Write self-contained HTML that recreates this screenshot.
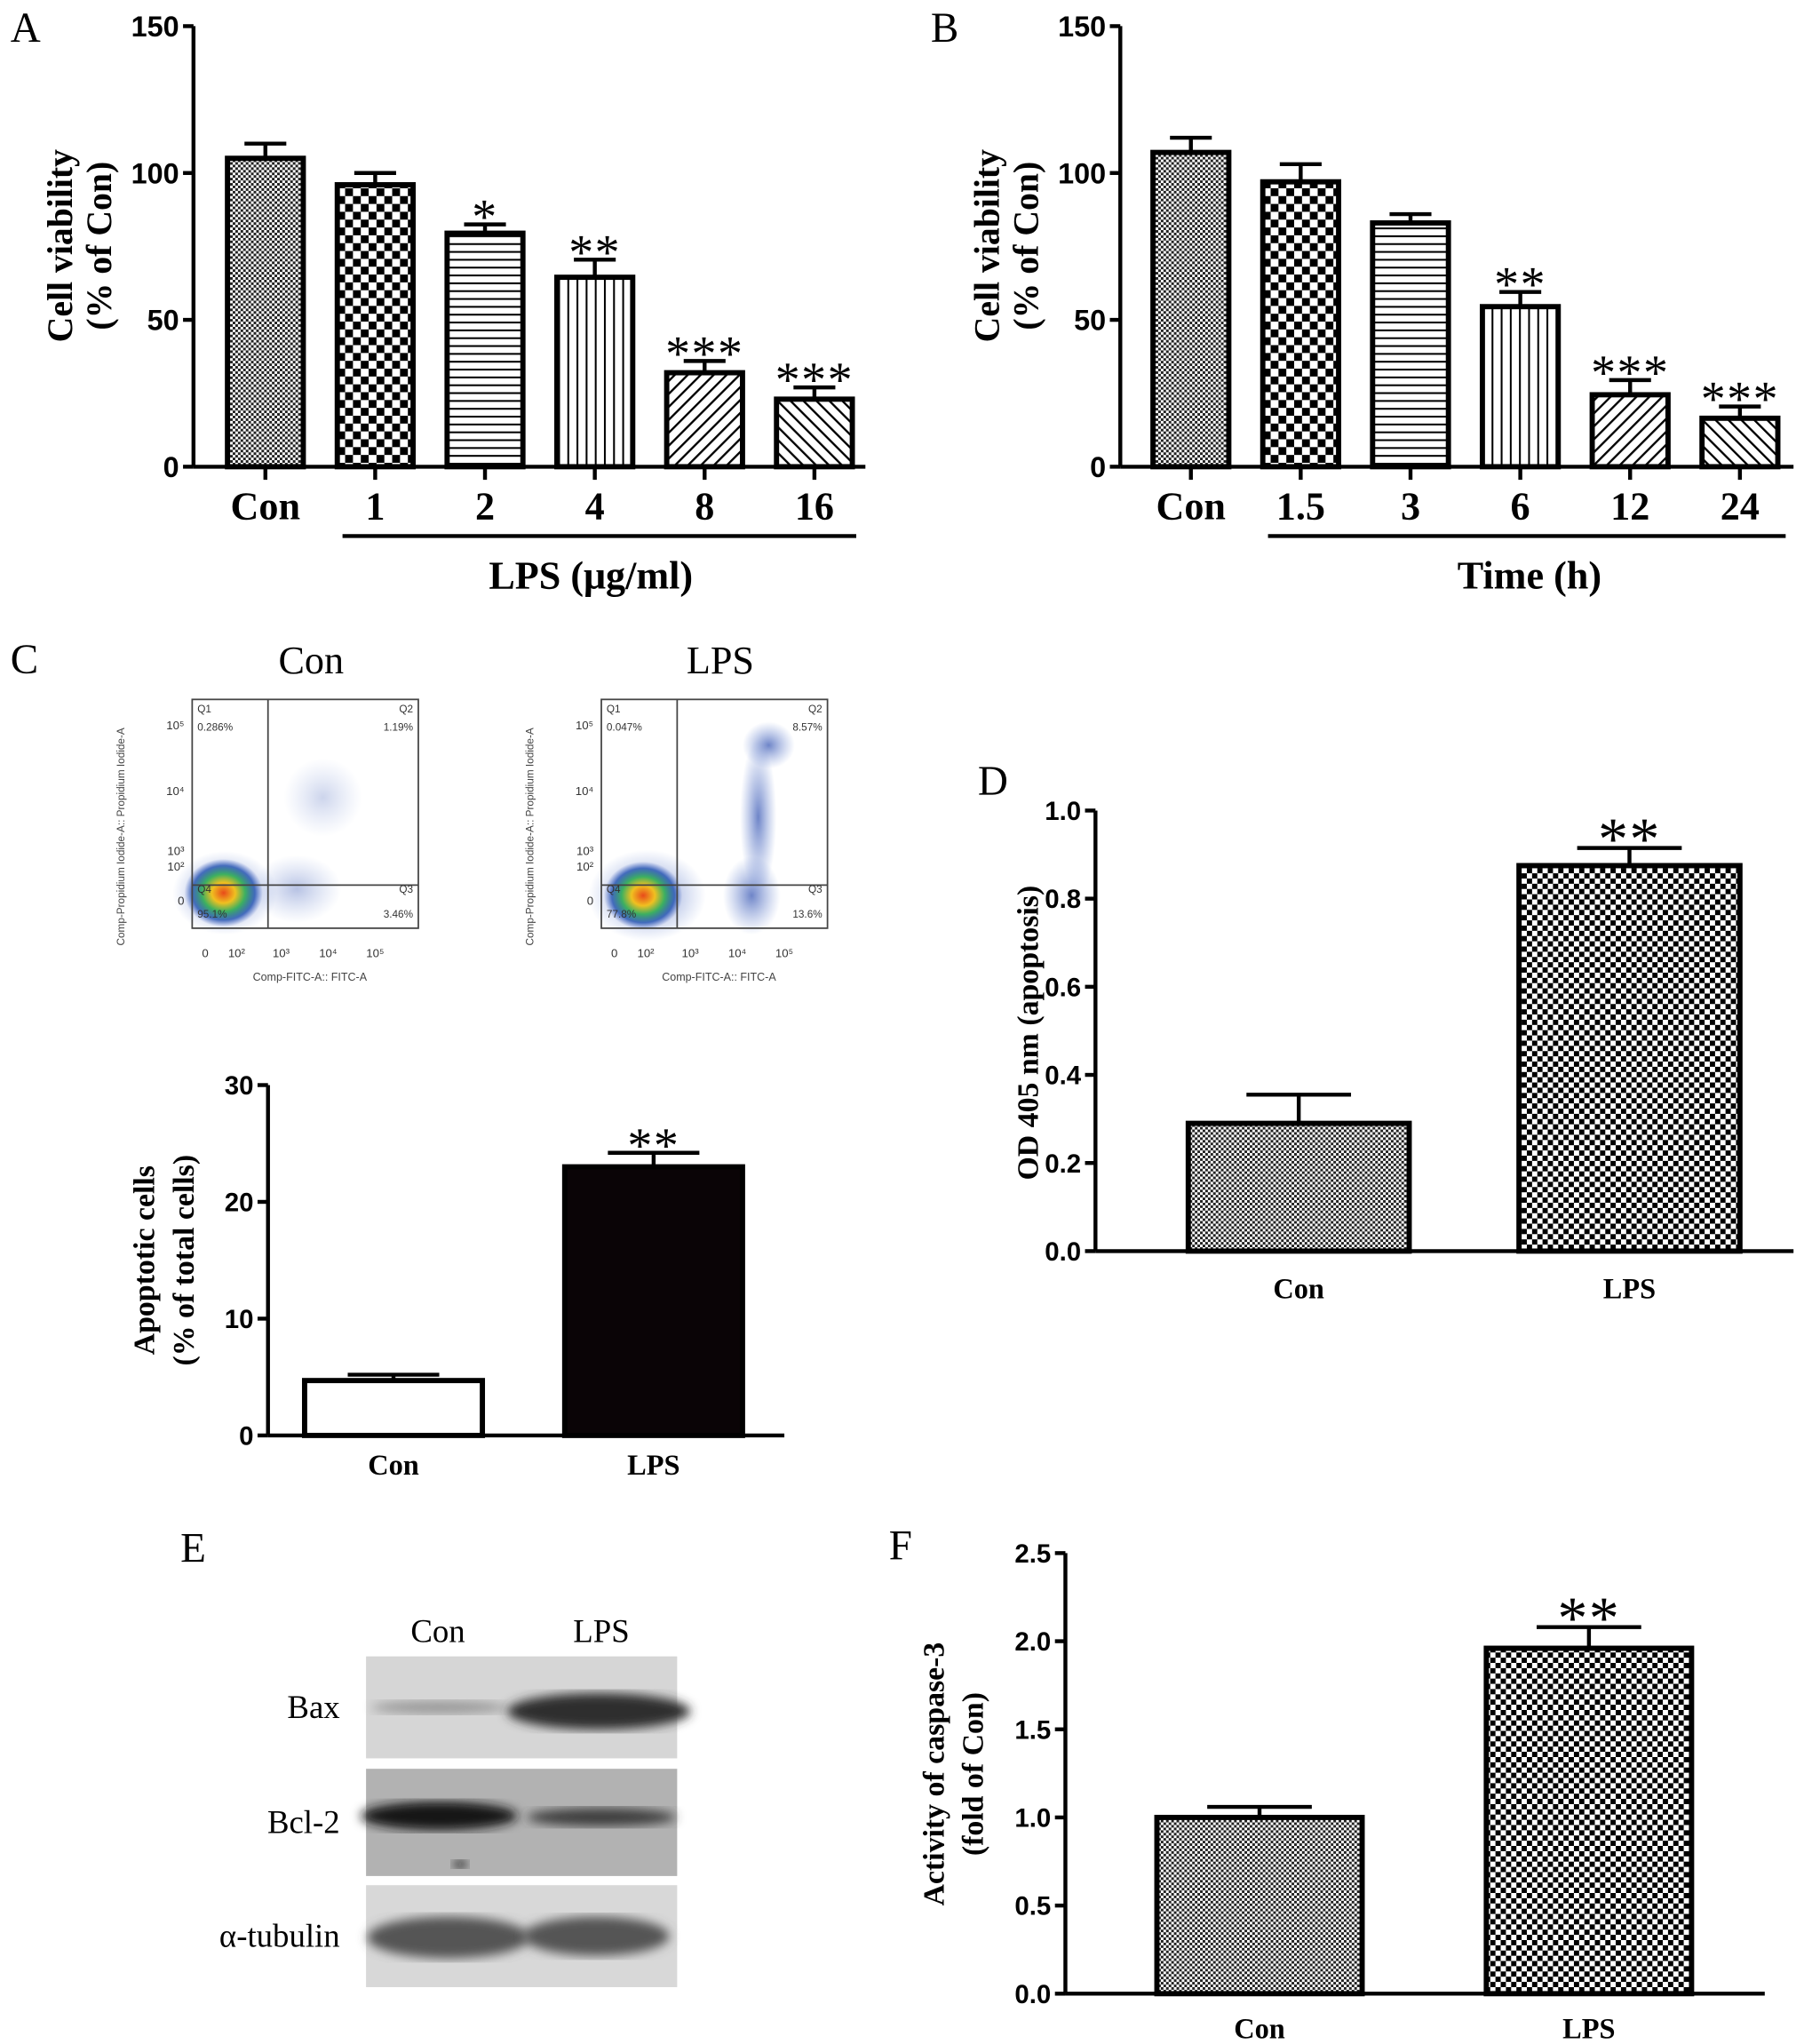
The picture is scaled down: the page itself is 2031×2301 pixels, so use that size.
<!DOCTYPE html>
<html><head><meta charset="utf-8">
<style>
html,body{margin:0;padding:0;background:#fff;}
svg{display:block;}
text{font-family:"Liberation Serif",serif;}
.b{font-weight:bold;}
.sans{font-family:"Liberation Sans",sans-serif;}
</style></head>
<body>
<svg id="fig" width="2031" height="2301" viewBox="0 0 1380 1563.5" xmlns="http://www.w3.org/2000/svg">
<defs>
<pattern id="pFine" width="4" height="4" patternUnits="userSpaceOnUse"><rect width="4" height="4" fill="#fff"/><rect width="2" height="2" fill="#222"/><rect x="2" y="2" width="2" height="2" fill="#222"/></pattern>
<pattern id="pCheck" width="12" height="12" patternUnits="userSpaceOnUse"><rect width="12" height="12" fill="#fff"/><rect width="6" height="6" fill="#000"/><rect x="6" y="6" width="6" height="6" fill="#000"/></pattern>
<pattern id="pMed" width="8" height="8" patternUnits="userSpaceOnUse"><rect width="8" height="8" fill="#fff"/><rect width="4" height="4" fill="#000"/><rect x="4" y="4" width="4" height="4" fill="#000"/></pattern>
<pattern id="pH" width="6" height="6" patternUnits="userSpaceOnUse"><rect width="6" height="6" fill="#fff"/><rect y="0" width="6" height="1.4" fill="#000"/></pattern>
<pattern id="pV" width="7" height="7" patternUnits="userSpaceOnUse"><rect width="7" height="7" fill="#fff"/><rect x="0" width="1.4" height="7" fill="#000"/></pattern>
<pattern id="pD1" width="7" height="7" patternUnits="userSpaceOnUse" patternTransform="rotate(45)"><rect width="7" height="7" fill="#fff"/><rect width="1.6" height="7" fill="#000"/></pattern>
<pattern id="pD2" width="7" height="7" patternUnits="userSpaceOnUse" patternTransform="rotate(-45)"><rect width="7" height="7" fill="#fff"/><rect width="1.6" height="7" fill="#000"/></pattern>
<radialGradient id="heat"><stop offset="0" stop-color="#e84a1a"/><stop offset="0.3" stop-color="#f0c020"/><stop offset="0.55" stop-color="#3cb060"/><stop offset="0.8" stop-color="#2050b0" stop-opacity="0.8"/><stop offset="1" stop-color="#4060c0" stop-opacity="0"/></radialGradient>
<radialGradient id="blue"><stop offset="0" stop-color="#3050b0" stop-opacity="0.7"/><stop offset="1" stop-color="#6080d0" stop-opacity="0"/></radialGradient>
<filter id="blur"><feGaussianBlur stdDeviation="4"/></filter>
</defs>
<g id="root"></g>
</svg>
<script>
// ---- data ----
const aCats = ["Con","1","2","4","8","16"];
const aVals = [105,96,79.5,64.5,32,23];
const aErrs = [5,4,3,6,4,4];
const aStars = ["","","*","**","***","***"];
const bCats = ["Con","1.5","3","6","12","24"];
const bVals = [107,97,83,54.5,24.5,16.5];
const bErrs = [5,6,3,5,5,4];
const bStars = ["","","","**","***","***"];
const abTicks = [0,50,100,150];
const cCats = ["Con","LPS"];
const cVals = [4.7,23];
const cErrs = [0.5,1.2];
const cTicks = [0,10,20,30];
const dCats = ["Con","LPS"];
const dVals = [0.29,0.875];
const dErrs = [0.065,0.04];
const dTicks = ["0.0","0.2","0.4","0.6","0.8","1.0"];
const fCats = ["Con","LPS"];
const fVals = [1.0,1.96];
const fErrs = [0.06,0.12];
const fTicks = ["0.0","0.5","1.0","1.5","2.0","2.5"];

const NS="http://www.w3.org/2000/svg";
const root=document.getElementById('root');
function mk(tag,attrs,parent,txt){const e=document.createElementNS(NS,tag);for(const k in attrs)e.setAttribute(k,attrs[k]);if(txt!==undefined)e.textContent=txt;(parent||root).appendChild(e);return e;}
function ln(x1,y1,x2,y2,w,p){return mk('line',{x1,y1,x2,y2,stroke:'#000','stroke-width':w||3},p);}

function barChart(cfg){
  const g=mk('g',{});
  
  
  const y=v=>cfg.y0-(v-cfg.min)/(cfg.max-cfg.min)*(cfg.y0-cfg.yTop);
  const ya=ln(cfg.ax,cfg.yTop,cfg.ax,cfg.y0,cfg.aw||3,g);
  
  const xa=ln(cfg.ax,cfg.y0,cfg.xEnd,cfg.y0,cfg.aw||3,g);
  
  cfg.ticks.forEach(t=>{
    const v=parseFloat(t);const yy=y(v);
    ln(cfg.ax-8,yy,cfg.ax,yy,cfg.aw||3,g);
    const tl=mk('text',{x:cfg.ax-11,y:yy+cfg.tfs*0.36,'text-anchor':'end','font-size':cfg.tfs,class:'b sans'},g,String(t));
    
  });
  cfg.vals.forEach((v,i)=>{
    const x0=cfg.x0+i*cfg.step, x1=x0+cfg.bw, cx=(x0+x1)/2;
    const eTop=y(v+cfg.errs[i]);
    ln(cx,eTop,cx,y(v),3,g);
    ln(cx-cfg.cap,eTop,cx+cfg.cap,eTop,3,g);
    const r=mk('rect',{x:x0,y:y(v),width:cfg.bw,height:cfg.y0-y(v),fill:cfg.fills[i],stroke:'#000','stroke-width':4},g);
    
    
    if(cfg.tickDown) ln(cx,cfg.y0,cx,cfg.y0+10,3,g);
    const lb=mk('text',{x:cx,y:cfg.y0+cfg.lOff,'text-anchor':'middle','font-size':cfg.lfs,class:'b'},g,cfg.cats[i]);
    
    
    if(cfg.stars&&cfg.stars[i]){
      const s=mk('text',{x:cx,y:eTop+cfg.sfs*0.18,'text-anchor':'middle','font-size':cfg.sfs,'letter-spacing':cfg.sls||0},g,cfg.stars[i]);
      
      
    }
  });
  cfg.title.forEach((t,j)=>{
    const tx=cfg.tx+j*cfg.tlh;
    const tt=mk('text',{x:tx,y:cfg.ty,'text-anchor':'middle','font-size':cfg.tfz,class:'b',transform:`rotate(-90 ${tx} ${cfg.ty})`},g,t);
    
    
  });
  return g;
}
const abFills=['url(#pFine)','url(#pCheck)','url(#pH)','url(#pV)','url(#pD1)','url(#pD2)'];

barChart({name:'panel-a-chart',ax:148,y0:357,yTop:20,min:0,max:150,xEnd:662,ticks:abTicks,tfs:22,
  vals:aVals,errs:aErrs,cats:aCats,stars:aStars,x0:174,step:84,bw:58,cap:16,fills:abFills,tickDown:true,
  lOff:40,lfs:30,sfs:38,sls:1,title:['Cell viability','(% of Con)'],tx:55,tlh:30,ty:188,tfz:27});
barChart({name:'panel-b-chart',ax:857,y0:357,yTop:20,min:0,max:150,xEnd:1372,ticks:abTicks,tfs:22,
  vals:bVals,errs:bErrs,cats:bCats,stars:bStars,x0:882,step:84,bw:58,cap:16,fills:abFills,tickDown:true,
  lOff:40,lfs:30,sfs:38,sls:1,title:['Cell viability','(% of Con)'],tx:764,tlh:30,ty:188,tfz:27});
barChart({name:'panel-c-bar-chart',ax:205,y0:1098,yTop:830,min:0,max:30,xEnd:600,ticks:cTicks,tfs:20,
  vals:cVals,errs:cErrs,cats:cCats,x0:233,step:199,bw:136,cap:35,fills:['#fff','#0a0406'],
  lOff:30,lfs:22,sfs:38,sls:1,stars:['','**'],title:['Apoptotic cells','(% of total cells)'],tx:118,tlh:30,ty:964,tfz:23});
barChart({name:'panel-d-chart',ax:838,y0:957,yTop:620,min:0,max:1.0,xEnd:1372,ticks:dTicks,tfs:20,
  vals:dVals,errs:dErrs,cats:dCats,x0:909,step:253,bw:169,cap:40,fills:['url(#pFine)','url(#pMed)'],
  lOff:36,lfs:22,sfs:46,sls:1,stars:['','**'],title:['OD 405 nm (apoptosis)'],tx:794,tlh:0,ty:790,tfz:23});
barChart({name:'panel-f-chart',ax:815,y0:1525,yTop:1188,min:0,max:2.5,xEnd:1350,ticks:fTicks,tfs:20,
  vals:fVals,errs:fErrs,cats:fCats,x0:885,step:252,bw:157,cap:40,fills:['url(#pFine)','url(#pMed)'],
  lOff:34,lfs:22,sfs:46,sls:1,stars:['','**'],title:['Activity of caspase-3','(fold of Con)'],tx:722,tlh:30,ty:1357,tfz:23});

ln(262,410,655,410,3);ln(970,410,1366,410,3);
let t=mk('text',{x:452,y:450,'text-anchor':'middle','font-size':30,class:'b'},root,'LPS (μg/ml)');

t=mk('text',{x:1170,y:450,'text-anchor':'middle','font-size':30,class:'b'},root,'Time (h)');


[['A',8,32],['B',712,32],['C',8,515],['D',748,608],['E',138,1195],['F',680,1193]].forEach(p=>{
  const e=mk('text',{x:p[1],y:p[2],'font-size':32},root,p[0]);
  
  
});

function flow(ox,title,q,lps){
  const g=mk('g',{});
  
  
  const w=173,h=175,top=535;
  mk('text',{x:ox+91,y:515,'text-anchor':'middle','font-size':30},g,title);
  if(lps){
    mk('ellipse',{cx:ox+35,cy:top+150,rx:45,ry:35,fill:'url(#blue)'},g);
    mk('ellipse',{cx:ox+115,cy:top+150,rx:22,ry:30,fill:'url(#blue)'},g);
    mk('ellipse',{cx:ox+120,cy:top+90,rx:14,ry:60,fill:'url(#blue)'},g);
    mk('ellipse',{cx:ox+128,cy:top+35,rx:20,ry:18,fill:'url(#blue)'},g);
    mk('ellipse',{cx:ox+32,cy:top+150,rx:30,ry:26,fill:'url(#heat)'},g);
  } else {
    mk('ellipse',{cx:ox+25,cy:top+148,rx:40,ry:32,fill:'url(#blue)'},g);
    mk('ellipse',{cx:ox+80,cy:top+145,rx:34,ry:26,fill:'url(#blue)',opacity:0.5},g);
    mk('ellipse',{cx:ox+100,cy:top+75,rx:30,ry:30,fill:'url(#blue)',opacity:0.35},g);
    mk('ellipse',{cx:ox+24,cy:top+148,rx:30,ry:26,fill:'url(#heat)'},g);
  }
  mk('rect',{x:ox,y:top,width:w,height:h,fill:'none',stroke:'#444','stroke-width':1.2},g);
  ln(ox+58,top,ox+58,top+h,1.2,g).setAttribute('stroke','#444');
  ln(ox,top+142,ox+w,top+142,1.2,g).setAttribute('stroke','#444');
  const fs=8;
  [['Q1',ox+4,top+10,'start'],[q[0],ox+4,top+24,'start'],['Q2',ox+w-4,top+10,'end'],[q[1],ox+w-4,top+24,'end'],
   ['Q4',ox+4,top+148,'start'],[q[3],ox+4,top+167,'start'],['Q3',ox+w-4,top+148,'end'],[q[2],ox+w-4,top+167,'end']].forEach(a=>{
    mk('text',{x:a[1],y:a[2],'font-size':fs,'text-anchor':a[3],class:'sans',fill:'#333'},g,a[0]);
  });
  [['10⁵',top+20],['10⁴',top+70],['10³',top+116],['10²',top+128],['0',top+154]].forEach(a=>{
    mk('text',{x:ox-6,y:a[1]+3,'font-size':9,'text-anchor':'end',class:'sans',fill:'#333'},g,a[0]);
  });
  [['0',ox+10],['10²',ox+34],['10³',ox+68],['10⁴',ox+104],['10⁵',ox+140]].forEach(a=>{
    mk('text',{x:a[1],y:top+h+22,'font-size':9,'text-anchor':'middle',class:'sans',fill:'#333'},g,a[0]);
  });
  mk('text',{x:ox+90,y:top+h+40,'font-size':8.5,'text-anchor':'middle',class:'sans',fill:'#444'},g,'Comp-FITC-A:: FITC-A');
  const yx=ox-52,yy=top+105;
  mk('text',{x:yx,y:yy,'font-size':8,'text-anchor':'middle',class:'sans',fill:'#444',transform:`rotate(-90 ${yx} ${yy})`},g,'Comp-Propidium Iodide-A:: Propidium Iodide-A');
}
flow(147,'Con',['0.286%','1.19%','3.46%','95.1%'],false);
flow(460,'LPS',['0.047%','8.57%','13.6%','77.8%'],true);

const wb=mk('g',{});


mk('text',{x:335,y:1256,'text-anchor':'middle','font-size':25},wb,'Con');
mk('text',{x:460,y:1256,'text-anchor':'middle','font-size':25},wb,'LPS');
const rows=[['Bax',1267,1345,'#d6d6d6'],['Bcl-2',1353,1435,'#b2b2b2'],['α-tubulin',1442,1520,'#d8d8d8']];
rows.forEach(r=>{
  mk('rect',{x:280,y:r[1],width:238,height:r[2]-r[1],fill:r[3]},wb);
  mk('text',{x:260,y:(r[1]+r[2])/2+8,'text-anchor':'end','font-size':25},wb,r[0]);
});
const bands=[[336,1306,52,5,'#888',0.8],[458,1309,70,14,'#2e2e2e',1],[336,1389,60,11,'#151515',1],[460,1390,57,7,'#3e3e3e',1],[343,1482,62,16,'#555',1],[456,1481,56,15,'#555',1]];
bands.forEach(b=>mk('ellipse',{cx:b[0],cy:b[1],rx:b[2],ry:b[3],fill:b[4],opacity:b[5],filter:'url(#blur)'},wb));
mk('ellipse',{cx:352,cy:1426,rx:6,ry:3,fill:'#222',filter:'url(#blur)'},wb);
</script>
</body></html>
